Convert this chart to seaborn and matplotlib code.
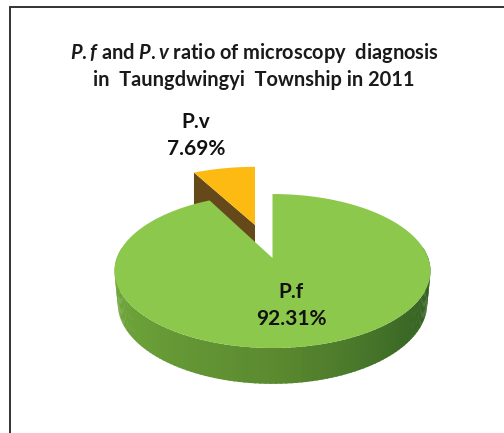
import numpy as np
import matplotlib
matplotlib.use("Agg")
import matplotlib.pyplot as plt
from matplotlib.colors import LinearSegmentedColormap
import seaborn as sns

labels = ["P.v", "P.f"]
values = [7.69, 92.31]

sns.set_theme(style="white")
plt.rcParams['font.family'] = ['Lato', 'DejaVu Sans']
plt.rcParams['mathtext.fontset'] = 'custom'
plt.rcParams['mathtext.it'] = 'Lato:italic:bold'
plt.rcParams['mathtext.rm'] = 'Lato:bold'

# ax.pie only supplies the slice angles, the disc is drawn projected below
scratch_fig, scratch_ax = plt.subplots(figsize=(1, 1))
wedges, _ = scratch_ax.pie(values, startangle=90, counterclock=True)
pv, pf = wedges[0], wedges[1]
plt.close(scratch_fig)

# pixel-like axes so the layout can be read straight off the reference
W, H = 504, 433
fig = plt.figure(figsize=(W / 100, H / 100), dpi=100)
ax = fig.add_axes([0, 0, 1, 1])
ax.set_xlim(0, W)
ax.set_ylim(H, 0)
ax.axis("off")

wall_cmap = LinearSegmentedColormap.from_list("wall", ["#74ad3e", "#6a9f38", "#5b8a30", "#3c6a26", "#2f5a20"])


def project(theta, cx=272.5, cy=258, rx=155.7, ry=74.8, k=0.169):
    # tilted disc seen in perspective: the near edge comes out bigger
    u, v = np.cos(np.radians(theta)), np.sin(np.radians(theta))
    w = 1 + k * v
    return cx + rx * u / w, cy - ry * v / w


def wedge_outline(t1, t2, **kw):
    ts = np.linspace(t1, t2, 160)
    x, y = project(ts, **kw)
    cx, cy = kw.get("cx", 272.5), kw.get("cy", 258)
    return np.r_[cx, x], np.r_[cy, y]


# side wall of the big slice
ts = np.linspace(172, 368, 120)
for i in range(len(ts) - 1):
    seg = np.linspace(ts[i], ts[i + 1] + 0.5, 4)
    xt, yt = project(seg)
    xb, yb = project(seg, rx=152.5, cy=290, ry=78)
    ax.fill(np.r_[xt, xb[::-1]], np.r_[yt, yb[::-1]], color=wall_cmap(i / (len(ts) - 2)), lw=0, zorder=2)

# small slice, pulled out of the disc
pv_kw = dict(cx=255, cy=225, rx=151, ry=68)
x, y = wedge_outline(pv.theta1, pv.theta2, **pv_kw)
ax.fill([x[-1], x[0], x[0], x[-1]], [y[-1], y[0], y[0] + 20, y[-1] + 42], color="#66491b", lw=0, zorder=1)
ax.fill(x, y, color="#fdba12", lw=0, zorder=1.5)

# top face of the big slice
x, y = wedge_outline(pf.theta1, pf.theta2)
ax.fill(x, y, color="#8cc84b", lw=0, zorder=3)

# frame, only left and top are inside the crop
ax.plot([10, 10, W], [H, 7, 7], color="#333333", lw=1.4, zorder=5, solid_joinstyle="miter")

title_kw = dict(ha="center", va="center", fontsize=14.4, fontweight="bold", color="#1a1a1a", zorder=6)
ax.text(254, 53, r"$\mathit{P{.}f}$ and $\mathit{P{.}v}$ ratio of microscopy  diagnosis", **title_kw)
ax.text(254, 80, "in  Taungdwingyi  Township in 2011", **title_kw)

label_kw = dict(ha="center", va="center", fontsize=15, fontweight="bold", color="#111111", zorder=6)
ax.text(196, 122, labels[0], **label_kw)
ax.text(196, 149, f"{values[0]:.2f}%", **label_kw)
ax.text(291, 292, labels[1], **label_kw)
ax.text(291, 319, f"{values[1]:.2f}%", **label_kw)

fig.savefig("out.png", dpi=100)
